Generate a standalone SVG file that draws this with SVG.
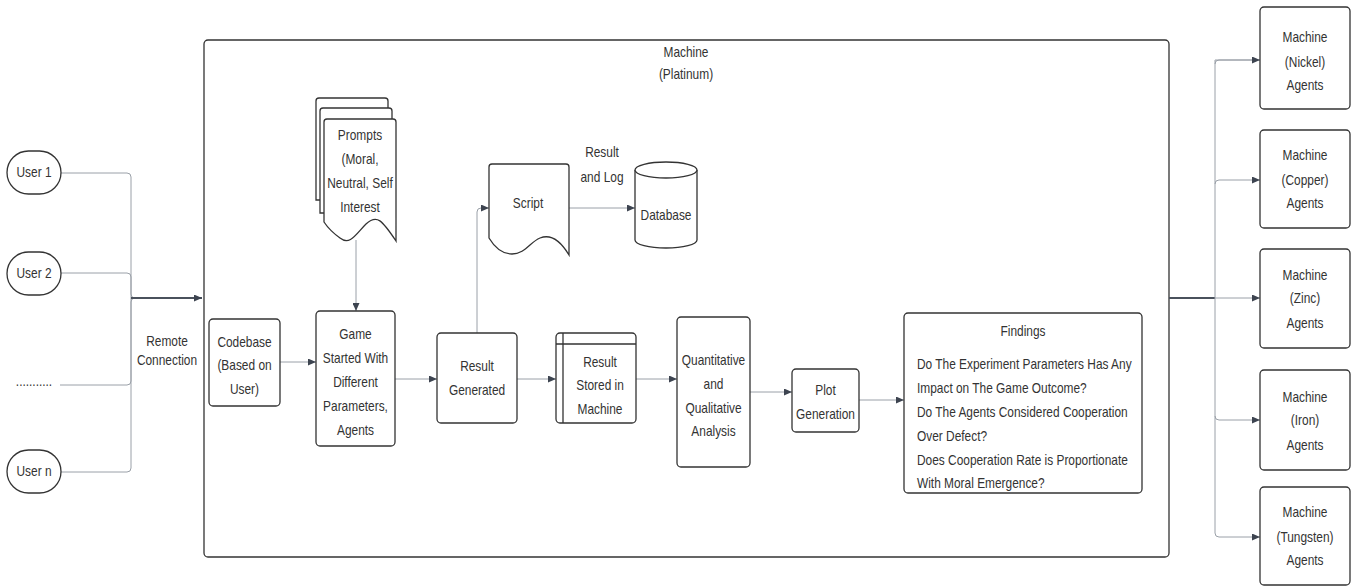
<svg xmlns="http://www.w3.org/2000/svg" width="1353" height="587" viewBox="0 0 1353 587">
<defs>
<style>
text{font-family:"Liberation Sans",Arial,sans-serif;font-size:14px;fill:#333;text-anchor:middle;dominant-baseline:central}
.box{fill:#fff;stroke:#333;stroke-width:1.3}
.ln{fill:none;stroke:#9aa0a8;stroke-width:1}
.bus{fill:none;stroke:#4a515c;stroke-width:2}
.lt{text-anchor:start}
</style>
<marker id="ah" viewBox="0 0 8 7" refX="8" refY="3.5" markerWidth="8" markerHeight="7" markerUnits="userSpaceOnUse" orient="auto">
<path d="M0,0 L8,3.5 L0,7 z" fill="#3d4450"/>
</marker>
</defs>
<rect width="1353" height="587" fill="#fff"/>

<g id="machine-platinum">
<rect class="box" x="204" y="40" width="965" height="517" rx="4"/>
<text transform="translate(686,52) scale(.85,1)">Machine</text>
<text transform="translate(686,74) scale(.85,1)">(Platinum)</text>
</g>

<g id="connectors">
<path class="ln" d="M61,173 H127 Q131,173 131,177 V294 Q131,298 135,298"/>
<path class="ln" d="M61,273 H127 Q131,273 131,277 V298"/>
<path class="ln" d="M60,385 H127 Q131,385 131,381 V298"/>
<path class="ln" d="M61,472 H127 Q131,472 131,468 V302 Q131,298 135,298"/>
<path class="bus" d="M131,298 H202" marker-end="url(#ah)"/>
<path class="ln" d="M280,362 H316" marker-end="url(#ah)"/>
<path class="ln" d="M356,240 V311" marker-end="url(#ah)"/>
<path class="ln" d="M395,379 H437" marker-end="url(#ah)"/>
<path class="ln" d="M477,333 V212 Q477,208 481,208 H489" marker-end="url(#ah)"/>
<path class="ln" d="M569,208 H635" marker-end="url(#ah)"/>
<path class="ln" d="M517,379 H556" marker-end="url(#ah)"/>
<path class="ln" d="M636,379 H677" marker-end="url(#ah)"/>
<path class="ln" d="M750,392 H792" marker-end="url(#ah)"/>
<path class="ln" d="M859,400 H904" marker-end="url(#ah)"/>
<path class="bus" d="M1169,298 H1215"/>
<path class="ln" d="M1260,60 H1219 Q1215,60 1215,64 V533 Q1215,537 1219,537 H1260" marker-end="url(#ah)"/>
<path class="ln" d="M1215,184 Q1215,180 1219,180 H1260" marker-end="url(#ah)"/>
<path class="ln" d="M1215,298 H1260" marker-end="url(#ah)"/>
<path class="ln" d="M1215,416 Q1215,420 1219,420 H1260" marker-end="url(#ah)"/>
<path class="ln" d="M1215,64 V60 H1260" marker-end="url(#ah)"/>
</g>
<text transform="translate(167,341) scale(.85,1)">Remote</text>
<text transform="translate(167,360) scale(.85,1)">Connection</text>
<text transform="translate(602,152) scale(.85,1)">Result</text>
<text transform="translate(602,177) scale(.85,1)">and Log</text>

<g id="user1"><rect class="box" x="7" y="151" width="54" height="43" rx="21.5"/><text transform="translate(34,172.5) scale(.85,1)">User 1</text></g>
<g id="user2"><rect class="box" x="7" y="252" width="54" height="43" rx="21.5"/><text transform="translate(34,273.5) scale(.85,1)">User 2</text></g>
<g id="user-dots"><text transform="translate(34,381) scale(.85,1)">...........</text></g>
<g id="usern"><rect class="box" x="7" y="450" width="54" height="43" rx="21.5"/><text transform="translate(34,471.5) scale(.85,1)">User n</text></g>

<g id="codebase"><rect class="box" x="209" y="319" width="71" height="87" rx="4"/>
<text transform="translate(244.5,342) scale(.85,1)">Codebase</text><text transform="translate(244.5,365) scale(.85,1)">(Based on</text><text transform="translate(244.5,389) scale(.85,1)">User)</text></g>

<g id="prompts">
<path class="box" d="M316,101 Q316,98 319,98 H385 Q388,98 388,101 V200 H316 Z"/>
<path class="box" d="M320,111 Q320,108 323,108 H389 Q392,108 392,111 V213 H320 Z"/>
<path class="box" d="M324,122 Q324,119 327,119 H393 Q396,119 396,122 V241 C382,220 377,214 366,224 C356,234 350,246 340,238 C333,233 328,228 324,222 Z"/>
<text transform="translate(360,135) scale(.85,1)">Prompts</text><text transform="translate(360,159) scale(.85,1)">(Moral,</text><text transform="translate(360,183) scale(.85,1)">Neutral, Self</text><text transform="translate(360,207) scale(.85,1)">Interest</text>
</g>

<g id="game"><rect class="box" x="316" y="311" width="79" height="135" rx="4"/>
<text transform="translate(355.5,334) scale(.85,1)">Game</text><text transform="translate(355.5,358) scale(.85,1)">Started With</text><text transform="translate(355.5,382) scale(.85,1)">Different</text><text transform="translate(355.5,406) scale(.85,1)">Parameters,</text><text transform="translate(355.5,430) scale(.85,1)">Agents</text></g>

<g id="result-generated"><rect class="box" x="437" y="333" width="80" height="90" rx="4"/>
<text transform="translate(477,366) scale(.85,1)">Result</text><text transform="translate(477,390) scale(.85,1)">Generated</text></g>

<g id="script">
<path class="box" d="M489,167 Q489,164 492,164 H566 Q569,164 569,167 V255 C560,240 550,234 540,238 C530,242 525,254 512,254 C502,254 495,248 489,238 Z"/>
<text transform="translate(528,203) scale(.85,1)">Script</text>
</g>

<g id="database">
<path class="box" d="M635,170 V240 A31,8 0 0 0 697,240 V170"/>
<ellipse class="box" cx="666" cy="170" rx="31" ry="8"/>
<text transform="translate(666,215) scale(.85,1)">Database</text>
</g>

<g id="result-stored"><rect class="box" x="556" y="333" width="80" height="90" rx="4"/>
<path class="box" d="M556,344 H636 M563,333 V423"/>
<text transform="translate(600,362) scale(.85,1)">Result</text><text transform="translate(600,385) scale(.85,1)">Stored in</text><text transform="translate(600,409) scale(.85,1)">Machine</text></g>

<g id="analysis"><rect class="box" x="677" y="317" width="73" height="150" rx="4"/>
<text transform="translate(713.5,360) scale(.85,1)">Quantitative</text><text transform="translate(713.5,384) scale(.85,1)">and</text><text transform="translate(713.5,408) scale(.85,1)">Qualitative</text><text transform="translate(713.5,431) scale(.85,1)">Analysis</text></g>

<g id="plot"><rect class="box" x="792" y="369" width="67" height="63" rx="4"/>
<text transform="translate(825.5,390) scale(.85,1)">Plot</text><text transform="translate(825.5,414) scale(.85,1)">Generation</text></g>

<g id="findings"><rect class="box" x="904" y="313" width="238" height="180" rx="4"/>
<text transform="translate(1023,331) scale(.85,1)">Findings</text>
<text class="lt" transform="translate(917,364) scale(.85,1)">Do The Experiment Parameters Has Any</text>
<text class="lt" transform="translate(917,388) scale(.85,1)">Impact on The Game Outcome?</text>
<text class="lt" transform="translate(917,412) scale(.85,1)">Do The Agents Considered Cooperation</text>
<text class="lt" transform="translate(917,436) scale(.85,1)">Over Defect?</text>
<text class="lt" transform="translate(917,460) scale(.85,1)">Does Cooperation Rate is Proportionate</text>
<text class="lt" transform="translate(917,483) scale(.85,1)">With Moral Emergence?</text></g>

<g id="nickel"><rect class="box" x="1260" y="7" width="90" height="102" rx="4"/>
<text transform="translate(1305,37) scale(.85,1)">Machine</text><text transform="translate(1305,62) scale(.85,1)">(Nickel)</text><text transform="translate(1305,85) scale(.85,1)">Agents</text></g>
<g id="copper"><rect class="box" x="1260" y="130" width="90" height="98" rx="4"/>
<text transform="translate(1305,155) scale(.85,1)">Machine</text><text transform="translate(1305,180) scale(.85,1)">(Copper)</text><text transform="translate(1305,203) scale(.85,1)">Agents</text></g>
<g id="zinc"><rect class="box" x="1260" y="249" width="90" height="99" rx="4"/>
<text transform="translate(1305,275) scale(.85,1)">Machine</text><text transform="translate(1305,298) scale(.85,1)">(Zinc)</text><text transform="translate(1305,323) scale(.85,1)">Agents</text></g>
<g id="iron"><rect class="box" x="1260" y="370" width="90" height="100" rx="4"/>
<text transform="translate(1305,397) scale(.85,1)">Machine</text><text transform="translate(1305,420) scale(.85,1)">(Iron)</text><text transform="translate(1305,445) scale(.85,1)">Agents</text></g>
<g id="tungsten"><rect class="box" x="1260" y="487" width="90" height="98" rx="4"/>
<text transform="translate(1305,512) scale(.85,1)">Machine</text><text transform="translate(1305,537) scale(.85,1)">(Tungsten)</text><text transform="translate(1305,560) scale(.85,1)">Agents</text></g>
</svg>
